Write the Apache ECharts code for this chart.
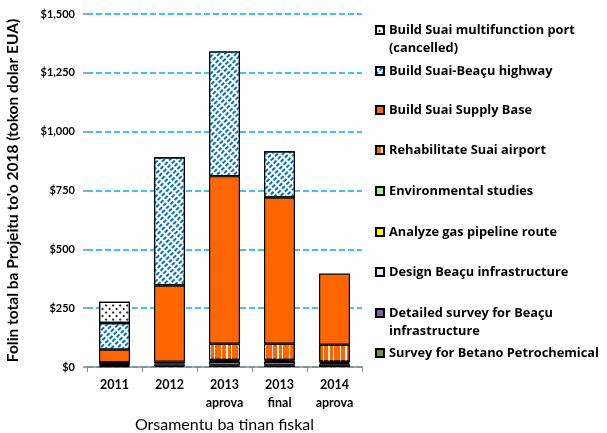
<!DOCTYPE html>
<html>
<head>
<meta charset="utf-8">
<script src="https://cdn.jsdelivr.net/npm/echarts@6/dist/echarts.min.js"></script>
<style>
  html, body { margin: 0; padding: 0; background: #fff; }
  #chart { width: 607px; height: 433px; }
</style>
</head>
<body>
<div id="chart"></div>
<script>
// categories (fiscal years)
var categories = ['2011', '2012', '2013\naprova', '2013\nfinal', '2014\naprova'];

// series values, millions USD, stacked bottom -> top
var betano = [null, null, 6, 6, null];
var detailedSurvey = [4, 5, 4, 4, 12];
var designBeacu = [4, 6, 12, 12, 5];
var gasPipeline = [4, 5, 4, 4, 5];
var envStudies = [null, 6, 4, 4, null];
var airport = [8, null, 69, 69, 73];
var supplyBase = [54, 324, 712, 621, 302];
var highway = [113, 545, 530, 197, null];
var port = [90, null, null, null, null];

// y axis ticks
var yTicks = [0, 250, 500, 750, 1000, 1250, 1500];

var names = {
  port: 'Build Suai multifunction port (cancelled)',
  highway: 'Build Suai-Beaçu highway',
  supply: 'Build Suai Supply Base',
  airport: 'Rehabilitate Suai airport',
  env: 'Environmental studies',
  gas: 'Analyze gas pipeline route',
  design: 'Design Beaçu infrastructure',
  detailed: 'Detailed survey for Beaçu infrastructure',
  betano: 'Survey for Betano Petrochemical'
};

var font = 'Lato, "Open Sans", sans-serif';

function bar(name, data, color, decal) {
  var s = {
    name: name,
    type: 'bar',
    stack: 'total',
    barWidth: 31,
    data: data,
    itemStyle: { color: color, borderColor: '#000', borderWidth: 1.2 }
  };
  if (decal) s.itemStyle.decal = decal;
  return s;
}

var series = [
  bar(names.betano, betano, '#77933C'),
  bar(names.detailed, detailedSurvey, '#7F62A0'),
  bar(names.design, designBeacu, '#DAEEF3'),
  bar(names.gas, gasPipeline, '#FFFF00'),
  bar(names.env, envStudies, '#99F58E'),
  bar(names.airport, airport, '#FF6600', {
    color: 'rgba(255,255,255,0.9)', symbol: 'rect',
    dashArrayX: [[1, 4, 2, 3, 1, 6]], dashArrayY: [60, 0]
  }),
  bar(names.supply, supplyBase, '#FF6600'),
  bar(names.highway, highway, '#FFFFFF', {
    color: '#0070C0', symbol: 'rect',
    dashArrayX: [[4, 2]], dashArrayY: [2, 2], rotation: -Math.PI / 4
  }),
  bar(names.port, port, '#FFFFFF', {
    color: '#333', symbol: 'rect',
    dashArrayX: [2, 3], dashArrayY: [2, 3], rotation: Math.PI / 4
  })
];

// legend rows: [series name, center y of first text line, two lines?]
var legendRows = [
  [names.port, 30, true],
  [names.highway, 71, false],
  [names.supply, 110, false],
  [names.airport, 150, false],
  [names.env, 191, false],
  [names.gas, 232, false],
  [names.design, 272, false],
  [names.detailed, 313, true],
  [names.betano, 353, false]
];
var lineH = 18;
var legends = legendRows.map(function (r) {
  return {
    data: [r[0]],
    orient: 'vertical',
    left: 375,
    top: r[2] ? r[1] - lineH * 1.5 : r[1] - lineH / 2,
    padding: 0,
    icon: 'rect',
    itemWidth: 8,
    itemHeight: 8,
    itemGap: 0,
    selectedMode: false,
    formatter: function (n) {
      if (n === names.port) return '\nBuild Suai multifunction port\n(cancelled)';
      if (n === names.detailed) return '\nDetailed survey for Beaçu\ninfrastructure';
      return n;
    },
    textStyle: { fontFamily: '"Open Sans", sans-serif', fontWeight: 'bold', fontSize: 12.8, color: '#000', lineHeight: lineH }
  };
});

var chart = echarts.init(document.getElementById('chart'));
chart.setOption({
  animation: false,
  backgroundColor: '#fff',
  legend: legends,
  grid: { left: 87, right: 245, top: 14, bottom: 66, outerBoundsMode: 'none', containLabel: false },
  xAxis: {
    type: 'category',
    data: categories,
    name: 'Orsamentu ba tinan fiskal',
    nameLocation: 'middle',
    nameGap: 48,
    nameTextStyle: { fontFamily: font, fontSize: 16, color: '#000' },
    axisLine: { lineStyle: { color: '#888', width: 1.5 } },
    axisTick: { show: true, length: 5, lineStyle: { color: '#888' } },
    axisLabel: {
      margin: 9, fontFamily: font, fontWeight: 'bold', fontSize: 12.5,
      color: '#000', lineHeight: 18
    }
  },
  yAxis: {
    type: 'value',
    min: yTicks[0],
    max: yTicks[yTicks.length - 1],
    interval: 250,
    name: "Folin total ba Projeitu to'o 2018 (tokon dolar EUA)",
    nameLocation: 'middle',
    nameGap: 66,
    nameTextStyle: { fontFamily: font, fontSize: 15.5, fontWeight: 'bold', color: '#000' },
    axisLine: { show: false },
    axisTick: { show: true, length: 4, lineStyle: { color: '#888', width: 1.5 } },
    axisLabel: {
      margin: 12, fontFamily: font, fontWeight: 'bold', fontSize: 11, color: '#000',
      formatter: function (v) { return '$' + v.toLocaleString('en-US'); }
    },
    splitLine: { lineStyle: { color: '#00B0F0', width: 1.5, type: [6, 3] } }
  },
  series: series
});
</script>
</body>
</html>
